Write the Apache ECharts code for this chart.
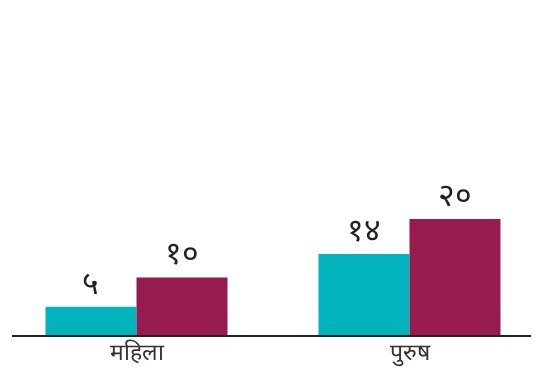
<!DOCTYPE html>
<html>
<head>
<meta charset="utf-8">
<style>
  html, body { margin: 0; padding: 0; background: #ffffff; }
  #chart { width: 533px; height: 367px; }
</style>
<script src="https://cdn.jsdelivr.net/npm/echarts@6/dist/echarts.min.js"></script>
</head>
<body>
<div id="chart"></div>
<script>
// Categories and series values
const categories = ['महिला', 'पुरुष'];
const seriesA = [5, 14];
const seriesB = [10, 20];

// Western digits -> Devanagari digits
const devDigits = ['०', '१', '२', '३', '४', '५', '६', '७', '८', '९'];
function toDevanagari(n) {
  return String(n).replace(/[0-9]/g, d => devDigits[+d]);
}

const chart = echarts.init(document.getElementById('chart'));

const labelStyle = {
  show: true,
  position: 'top',
  distance: 6,
  fontSize: 32,
  color: '#222222',
  fontFamily: 'sans-serif',
  formatter: p => toDevanagari(p.value)
};

chart.setOption({
  animation: false,
  grid: { left: 0, width: 546, top: 102, bottom: 31, outerBoundsMode: 'none', containLabel: false },
  xAxis: {
    type: 'category',
    data: categories,
    axisLine: { show: false },
    axisTick: { show: false },
    axisLabel: { fontSize: 23, color: '#333333', margin: 6, fontFamily: 'sans-serif' }
  },
  yAxis: {
    type: 'value',
    min: 0,
    max: 40,
    show: false,
    splitLine: { show: false }
  },
  series: [
    {
      type: 'bar',
      data: seriesA,
      barGap: '0%',
      barCategoryGap: '33.33%',
      itemStyle: { color: '#00b3bd' },
      label: labelStyle
    },
    {
      type: 'bar',
      data: seriesB,
      itemStyle: { color: '#981b4f' },
      label: labelStyle
    }
  ],
  graphic: [
    {
      type: 'line',
      shape: { x1: 12, y1: 336, x2: 531, y2: 336 },
      style: { stroke: '#222222', lineWidth: 2 },
      z: 100
    }
  ]
});
</script>
</body>
</html>
